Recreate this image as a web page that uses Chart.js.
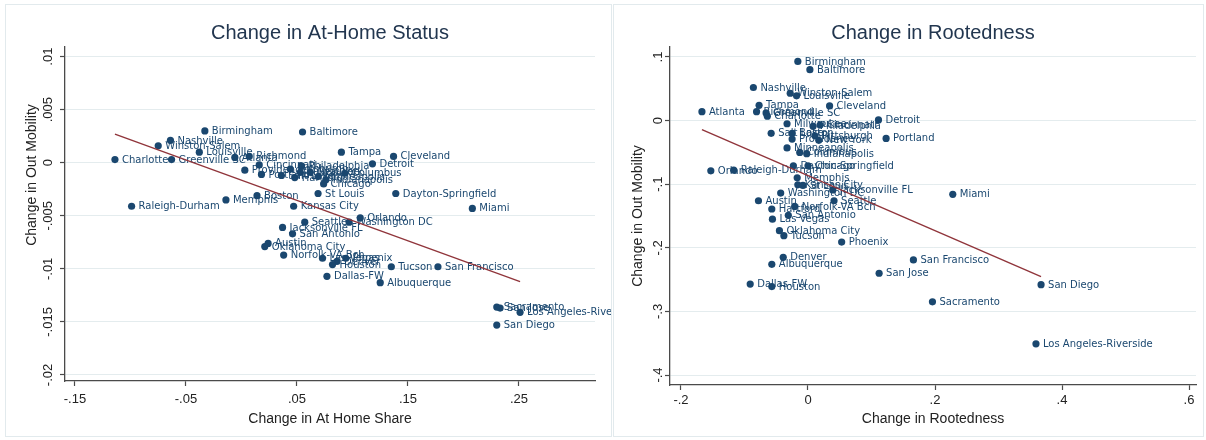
<!DOCTYPE html>
<html>
<head>
<meta charset="utf-8">
<script src="https://cdn.jsdelivr.net/npm/chart.js@4.4.1/dist/chart.umd.min.js"></script>
<style>
  body { margin: 0; background: #fff; }
  .frame { position: absolute; border: 1px solid #e2eaed; }
  canvas { position: absolute; top: 0; }
</style>
</head>
<body>
<div class="frame" style="left:5px;top:4px;width:605px;height:431px"></div>
<div class="frame" style="left:613px;top:4px;width:589px;height:431px"></div>
<canvas id="homeChart" width="611" height="440" style="left:0"></canvas>
<canvas id="rootChart" width="594" height="440" style="left:612px"></canvas>
<script>
const cities = ['Birmingham', 'Baltimore', 'Nashville', 'Winston-Salem', 'Louisville', 'Cleveland',
  'Tampa', 'Atlanta', 'Richmond', 'Greenville SC', 'Charlotte', 'Detroit', 'Milwaukee',
  'Philadelphia', 'Cincinnati', 'Pittsburgh', 'Salt Lake', 'Providence', 'New York', 'Portland',
  'Minneapolis', 'Columbus', 'Indianapolis', 'Dayton-Springfield', 'Chicago', 'Orlando',
  'Raleigh-Durham', 'Memphis', 'Boston', 'Kansas City', 'Jacksonville FL', 'Washington DC',
  'Seattle', 'St Louis', 'Austin', 'Hartford', 'Norfolk-VA Bch', 'San Antonio', 'Las Vegas',
  'Oklahoma City', 'Tucson', 'Phoenix', 'Denver', 'Albuquerque', 'San Francisco', 'San Jose',
  'Dallas-FW', 'Houston', 'Sacramento', 'San Diego', 'Los Angeles-Riverside', 'Miami'];

// left panel: change in at-home share vs change in out mobility
const homeShare = [-0.033, 0.055, -0.064, -0.075, -0.038, 0.137,
  0.090, -0.006, 0.007, -0.063, -0.114, 0.118, 0.053,
  0.054, 0.016, 0.044, 0.036, 0.003, 0.062, 0.018,
  0.069, 0.093, 0.076, 0.139, 0.074, 0.107,
  -0.099, -0.014, 0.014, 0.047, 0.037, 0.097,
  0.057, 0.069, 0.024, 0.048, 0.038, 0.046, 0.073,
  0.021, 0.135, 0.094, 0.086, 0.125, 0.177, 0.233,
  0.077, 0.082, 0.230, 0.230, 0.251, 0.208];
const homeMobility = [0.0030, 0.0029, 0.0021, 0.0016, 0.0010, 0.0006,
  0.0010, 0.0005, 0.0006, 0.0003, 0.0003, -0.0001, -0.0009,
  -0.0003, -0.0002, -0.0006, -0.0012, -0.0007, -0.0009, -0.0011,
  -0.0013, -0.0010, -0.0016, -0.0029, -0.0020, -0.0052,
  -0.0041, -0.0035, -0.0031, -0.0041, -0.0061, -0.0056,
  -0.0056, -0.0029, -0.0076, -0.0014, -0.0087, -0.0067, -0.0090,
  -0.0079, -0.0098, -0.0090, -0.0093, -0.0113, -0.0098, -0.0137,
  -0.0107, -0.0096, -0.0136, -0.0153, -0.0141, -0.0043];
const homeFitX = [-0.114, 0.251];
const homeFitY = [0.0027, -0.0112];
const homeXTicks = [-0.15, -0.05, 0.05, 0.15, 0.25];
const homeXLabels = ['-.15', '-.05', '.05', '.15', '.25'];
const homeYTicks = [-0.02, -0.015, -0.01, -0.005, 0, 0.005, 0.01];
const homeYLabels = ['-.02', '-.015', '-.01', '-.005', '0', '.005', '.01'];

// right panel: change in rootedness vs change in out mobility
const rootedness = [-0.016, 0.003, -0.086, -0.028, -0.018, 0.034,
  -0.077, -0.167, -0.081, -0.066, -0.064, 0.111, -0.033,
  0.008, 0.019, 0.011, -0.058, -0.025, 0.017, 0.123,
  -0.033, -0.013, -0.002, -0.023, 0.000, -0.153,
  -0.117, -0.017, -0.025, -0.016, 0.039, -0.043,
  0.041, -0.008, -0.078, -0.057, -0.021, -0.031, -0.056,
  -0.045, -0.038, 0.053, -0.039, -0.057, 0.166, 0.112,
  -0.091, -0.057, 0.196, 0.367, 0.359, 0.228];
const rootMobility = [0.093, 0.080, 0.052, 0.043, 0.039, 0.023,
  0.024, 0.014, 0.014, 0.012, 0.007, 0.001, -0.005,
  -0.009, -0.007, -0.024, -0.020, -0.029, -0.031, -0.028,
  -0.043, -0.050, -0.052, -0.071, -0.071, -0.079,
  -0.078, -0.090, -0.020, -0.101, -0.109, -0.114,
  -0.126, -0.102, -0.126, -0.139, -0.135, -0.149, -0.155,
  -0.173, -0.181, -0.191, -0.215, -0.226, -0.219, -0.240,
  -0.257, -0.261, -0.285, -0.258, -0.351, -0.116];
const rootFitX = [-0.167, 0.367];
const rootFitY = [-0.0142, -0.2453];
const rootXTicks = [-0.2, 0, 0.2, 0.4, 0.6];
const rootXLabels = ['-.2', '0', '.2', '.4', '.6'];
const rootYTicks = [-0.4, -0.3, -0.2, -0.1, 0, 0.1];
const rootYLabels = ['-.4', '-.3', '-.2', '-.1', '0', '.1'];

const NAVY = '#1a476f';
const MAROON = '#90353b';
const AXIS = '#4a4a4a';
const GRID = '#e4ecee';
const SANS = '"Liberation Sans", Arial, sans-serif';

// marker labels to the right of each point, drawn before the fit line
const pointLabels = {
  id: 'pointLabels',
  afterDatasetDraw(chart, args) {
    if (args.index !== 0) return;
    const ctx = chart.ctx;
    ctx.save();
    ctx.font = '10px "DejaVu Sans", sans-serif';
    ctx.fillStyle = NAVY;
    ctx.textBaseline = 'middle';
    args.meta.data.forEach((pt, i) => {
      ctx.fillText(cities[i], pt.x + 7, pt.y + 0.5);
    });
    ctx.restore();
  }
};

// rotated y axis title at a given centre
const yTitle = {
  id: 'yTitle',
  afterDraw(chart, args, opts) {
    const ctx = chart.ctx;
    ctx.save();
    ctx.translate(opts.x, opts.y);
    ctx.rotate(-Math.PI / 2);
    ctx.font = '14px ' + SANS;
    ctx.fillStyle = '#222';
    ctx.textAlign = 'center';
    ctx.textBaseline = 'middle';
    ctx.fillText(opts.text, 0, 0);
    ctx.restore();
  }
};

function makePanel(id, cfg) {
  const pts = cfg.xs.map((x, i) => ({ x: x, y: cfg.ys[i] }));
  const fit = cfg.fitX.map((x, i) => ({ x: x, y: cfg.fitY[i] }));
  new Chart(document.getElementById(id), {
    type: 'scatter',
    data: {
      datasets: [{
        data: pts,
        order: 1,
        pointRadius: 3.6,
        pointBackgroundColor: NAVY,
        pointBorderWidth: 0
      }, {
        type: 'line',
        data: fit,
        order: 0,
        borderColor: MAROON,
        borderWidth: 1.4,
        pointRadius: 0,
        fill: false
      }]
    },
    options: {
      responsive: false,
      animation: false,
      layout: { padding: { left: 0, right: cfg.padRight, top: 0, bottom: 0 } },
      plugins: {
        legend: { display: false },
        tooltip: { enabled: false },
        title: {
          display: true,
          text: cfg.title,
          fullSize: false,
          color: '#22364f',
          font: { family: SANS, size: 20, weight: 'normal', lineHeight: 1.2 },
          padding: { top: 21, bottom: 2 }
        },
        yTitle: { text: 'Change in Out Mobility', x: cfg.yTitleX, y: cfg.yTitleY }
      },
      scales: {
        x: {
          type: 'linear',
          min: cfg.xMin, max: cfg.xMax,
          afterBuildTicks: s => { s.ticks = cfg.xTicks.map(v => ({ value: v })); },
          afterFit: s => { s.height = cfg.xAxisHeight; },
          grid: { display: true, drawOnChartArea: false, tickLength: 5, tickColor: AXIS, tickWidth: 1.2 },
          border: { display: true, color: AXIS, width: 1.3 },
          ticks: {
            autoSkip: false, maxRotation: 0, padding: cfg.xTickPad,
            color: '#222', font: { family: SANS, size: 13 },
            callback: (v, i) => cfg.xLabels[i]
          },
          title: {
            display: true, text: cfg.xTitle, color: '#222',
            font: { family: SANS, size: 14 }, padding: { top: 0, bottom: 12.6 }
          }
        },
        y: {
          type: 'linear',
          min: cfg.yMin, max: cfg.yMax,
          afterBuildTicks: s => { s.ticks = cfg.yTicks.map(v => ({ value: v })); },
          afterFit: s => { s.width = cfg.yAxisWidth; },
          grid: { color: GRID, lineWidth: 1, tickLength: 5, tickColor: AXIS, tickWidth: 1.2 },
          border: { display: true, color: AXIS, width: 1.3 },
          ticks: {
            autoSkip: false, minRotation: 90, maxRotation: 90,
            crossAlign: 'center', padding: cfg.yTickPad,
            color: '#222', font: { family: SANS, size: 13 },
            callback: (v, i) => cfg.yLabels[i]
          }
        }
      }
    },
    plugins: [pointLabels, yTitle]
  });
}

makePanel('homeChart', {
  title: 'Change in At-Home Status', xTitle: 'Change in At Home Share',
  xs: homeShare, ys: homeMobility, fitX: homeFitX, fitY: homeFitY,
  xTicks: homeXTicks, xLabels: homeXLabels, yTicks: homeYTicks, yLabels: homeYLabels,
  xMin: -0.159, xMax: 0.3185, yMin: -0.02057, yMax: 0.01091,
  padRight: 16, xAxisHeight: 59, yAxisWidth: 65, xTickPad: 6, yTickPad: -3,
  yTitleX: 32, yTitleY: 175
});

makePanel('rootChart', {
  title: 'Change in Rootedness', xTitle: 'Change in Rootedness',
  xs: rootedness, ys: rootMobility, fitX: rootFitX, fitY: rootFitY,
  xTicks: rootXTicks, xLabels: rootXLabels, yTicks: rootYTicks, yLabels: rootYLabels,
  xMin: -0.2173, xMax: 0.611, yMin: -0.4157, yMax: 0.1157,
  padRight: 10, xAxisHeight: 55, yAxisWidth: 58, xTickPad: 3, yTickPad: -1,
  yTitleX: 26, yTitleY: 216
});
</script>
</body>
</html>
